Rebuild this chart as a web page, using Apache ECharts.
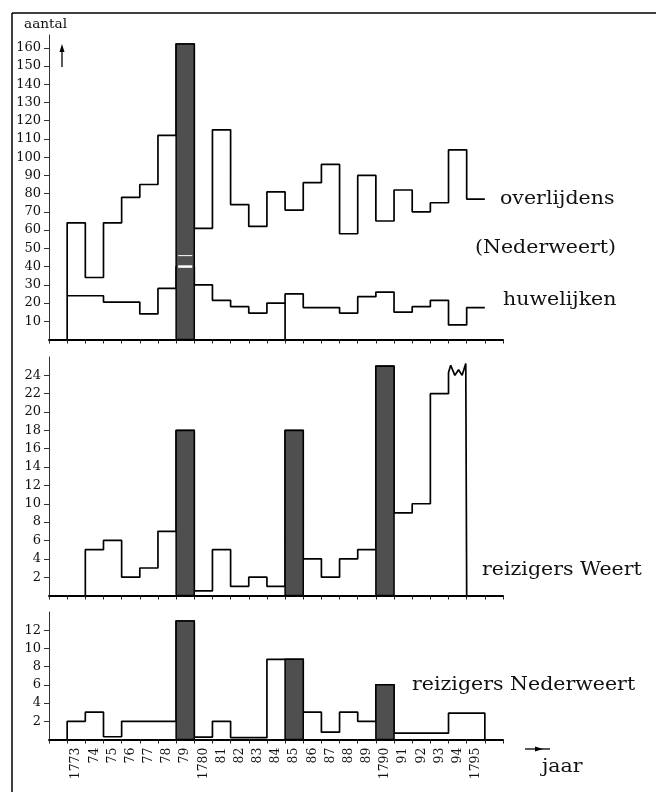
<!DOCTYPE html>
<html><head><meta charset="utf-8">
<script src="https://cdn.jsdelivr.net/npm/echarts@6/dist/echarts.min.js"></script>
<style>html,body{margin:0;padding:0;background:#fff}#c{width:656px;height:792px}</style>
</head><body><div id="c"></div>
<script>
// ---- data ----
const years = [1773,1774,1775,1776,1777,1778,1779,1780,1781,1782,1783,1784,1785,1786,1787,1788,1789,1790,1791,1792,1793,1794,1795];
const yearLabels = ['1773','74','75','76','77','78','79','1780','81','82','83','84','85','86','87','88','89','1790','91','92','93','94','1795'];
const overlijdens = [64,34,64,78,85,112,162,61,115,74,62,81,71,86,96,58,90,65,82,70,75,104,77];
const huwelijken  = [24,24,20.5,20.5,14,28,40,30,21.5,18,14.5,20,25,17.5,17.5,14.5,23.5,26,15,18,21.5,8,17.5];
const huwelijken1779Marks = [40,46];
const reizigersWeert = [null,5,6,2,3,7,18,0.5,5,1,2,1,18,4,2,4,5,25,9,10,22,25,null];
const reizigersNederweert = [2,3,0.3,2,2,2,13,0.25,2,0.2,0.2,8.8,8.8,3,0.8,3,2,6,0.7,0.7,0.7,2.9,2.9];
const darkYears1 = [1779];
const darkYears23 = [1779,1785,1790];
const offScaleWeert = [1794];
const breakPatternX = [0,0.12,0.35,0.55,0.75,0.95,1];
const breakPatternY = [24.3,25.1,24.0,24.6,24.0,25.3,25.3];
const yTicks1 = [10,20,30,40,50,60,70,80,90,100,110,120,130,140,150,160];
const yTicks2 = [2,4,6,8,10,12,14,16,18,20,22,24];
const yTicks3 = [2,4,6,8,10,12];

// ---- helpers ----
function stepPoints(vals, opt){
  opt = opt || {};
  const pts = [];
  let first = true, lastX = null;
  vals.forEach((v,i)=>{
    if (v == null) return;
    const x = years[i];
    if (first){ if (opt.fromZero) pts.push([x,0]); first=false; }
    else if (opt.drops && opt.drops.includes(x)) pts.push([x,0]);
    if (opt.offScale && opt.offScale.includes(x)){
      breakPatternX.forEach((dx,k)=>pts.push([x+dx, breakPatternY[k]]));
    } else {
      pts.push([x,v]); pts.push([x+1,v]);
    }
    lastX = x+1;
  });
  if (opt.toZero) pts.push([lastX,0]);
  return pts;
}
function darkData(vals, ys){ return ys.map(y=>[y, vals[years.indexOf(y)]]); }
const FONT = 'DejaVu Serif';
function renderDark(params, api){
  const x = api.value(0), v = api.value(1);
  const p0 = api.coord([x, v]), p1 = api.coord([x+1, 0]);
  return {type:'rect', shape:{x:p0[0], y:p0[1], width:p1[0]-p0[0], height:p1[1]-p0[1]},
    style:{fill:'#4f4f4f', stroke:'#000', lineWidth:1.5}};
}
function renderWhite(params, api){
  const x = api.value(0), v = api.value(1);
  const p0 = api.coord([x, v]), p1 = api.coord([x+1, v]);
  return {type:'line', shape:{x1:p0[0]+2, y1:p0[1], x2:p1[0]-2, y2:p1[1]},
    style:{stroke:'#fff', lineWidth: params.dataIndex===0 ? 2.5 : 1}};
}
const xIntTicks = []; for (let y=1772; y<=1797; y++) xIntTicks.push(y);
function xAx(gi, withLabels){
  return {type:'value', gridIndex:gi, min:1772, max:1797, interval:1,
    axisLine:{show:true, lineStyle:{color:'#000', width:2}},
    axisTick:{show:true, length:4, customValues:xIntTicks, lineStyle:{color:'#222', width:1}},
    splitLine:{show:false},
    axisLabel: withLabels ? {show:true, customValues: years.map(y=>y+0.5),
      formatter: v => yearLabels[Math.round(v-0.5)-1773] || '',
      rotate:90, fontFamily:FONT, fontSize:12.5, color:'#111', margin:8} : {show:false}};
}
function yAx(gi, max, ticks){
  return {type:'value', gridIndex:gi, min:0, max:max,
    axisLine:{show:true, lineStyle:{color:'#333', width:1}},
    axisTick:{show:true, length:5, customValues:ticks, lineStyle:{color:'#333'}},
    axisLabel:{show:true, customValues:ticks, fontFamily:FONT, fontSize:13, color:'#111', margin:8},
    splitLine:{show:false}};
}
const lineStyle = {color:'#000', width:1.7};
function lineSeries(pts, gi){
  return {type:'line', xAxisIndex:gi, yAxisIndex:gi, data:pts, showSymbol:false, symbol:'none',
    lineStyle:lineStyle, z:2, animation:false, silent:true};
}
function txt(x,yc,s,size,sx){
  return {type:'text', x:x, y:yc, scaleX:sx, scaleY:1,
    style:{text:s, font:`${size}px "${FONT}"`, fill:'#111', align:'left', verticalAlign:'middle'}};
}

const chart = echarts.init(document.getElementById('c'), null, {renderer:'canvas'});
chart.setOption({
  animation:false,
  backgroundColor:'#fff',
  grid:[
    {left:49, top:35, width:454, height:304.5},
    {left:49, top:357, width:454, height:238.5},
    {left:49, top:612, width:454, height:127.5}
  ],
  xAxis:[xAx(0,false), xAx(1,false), xAx(2,true)],
  yAxis:[yAx(0,167,yTicks1), yAx(1,26,yTicks2), yAx(2,14,yTicks3)],
  series:[
    lineSeries(stepPoints(overlijdens,{fromZero:true}),0),
    lineSeries(stepPoints(huwelijken,{drops:[1785]}),0),
    {type:'custom', xAxisIndex:0, yAxisIndex:0, data:darkData(overlijdens,darkYears1), renderItem:renderDark, z:5, silent:true},
    {type:'custom', xAxisIndex:0, yAxisIndex:0, data:huwelijken1779Marks.map(v=>[1779,v]), renderItem:renderWhite, z:6, silent:true},
    lineSeries(stepPoints(reizigersWeert,{fromZero:true,toZero:true,offScale:offScaleWeert}),1),
    {type:'custom', xAxisIndex:1, yAxisIndex:1, data:darkData(reizigersWeert,darkYears23), renderItem:renderDark, z:5, silent:true},
    lineSeries(stepPoints(reizigersNederweert,{fromZero:true,toZero:true}),2),
    {type:'custom', xAxisIndex:2, yAxisIndex:2, data:darkData(reizigersNederweert,darkYears23), renderItem:renderDark, z:5, silent:true}
  ],
  graphic:[
    {type:'line', shape:{x1:12, y1:13, x2:656, y2:13}, style:{stroke:'#000', lineWidth:1.5}},
    {type:'line', shape:{x1:12, y1:13, x2:12, y2:792}, style:{stroke:'#000', lineWidth:1.5}},
    txt(24,25,'aantal',13,1.05),
    {type:'line', shape:{x1:62, y1:67, x2:62, y2:50}, style:{stroke:'#000', lineWidth:1.3}},
    {type:'polygon', shape:{points:[[62,44],[59.5,52],[64.5,52]]}, style:{fill:'#000'}},
    txt(500,199,'overlijdens',18,1.14),
    txt(475,248,'(Nederweert)',18,1.14),
    txt(503,300,'huwelijken',18,1.14),
    txt(482,570,'reizigers Weert',18,1.14),
    txt(412,685,'reizigers Nederweert',18,1.14),
    txt(542,767,'jaar',18,1.14),
    {type:'line', shape:{x1:525, y1:749, x2:550, y2:749}, style:{stroke:'#000', lineWidth:1.3}},
    {type:'polygon', shape:{points:[[543,749],[535,746.5],[535,751.5]]}, style:{fill:'#000'}}
  ]
});
</script></body></html>
